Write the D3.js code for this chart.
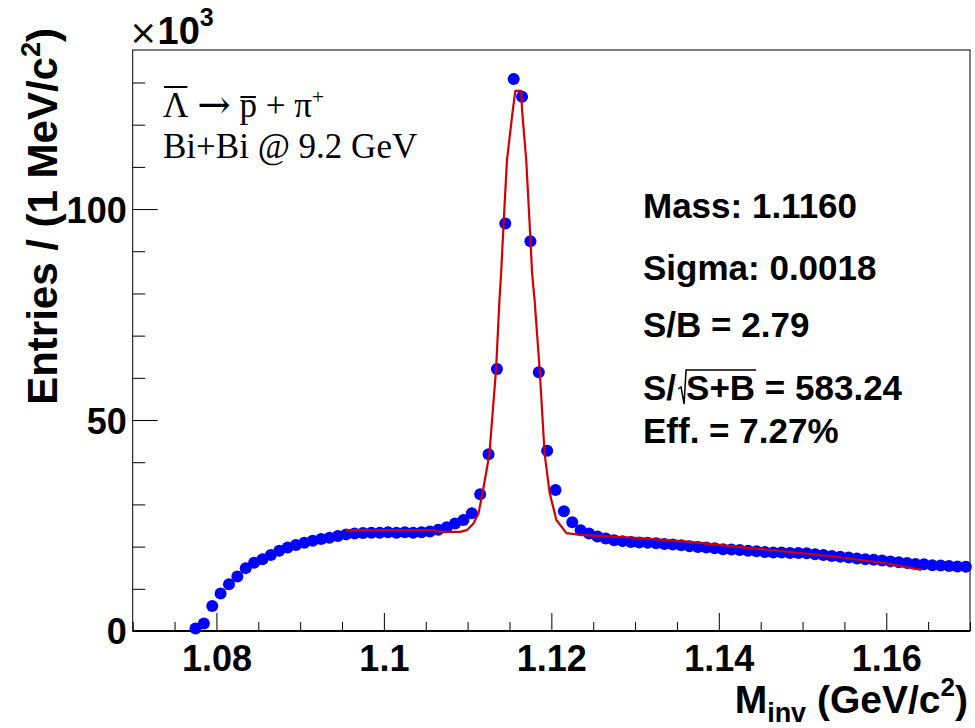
<!DOCTYPE html>
<html>
<head>
<meta charset="utf-8">
<script src="https://cdn.jsdelivr.net/npm/d3@7"></script>
<style>
body { margin: 0; background: #fff; }
svg { display: block; }
</style>
</head>
<body>
<div id="chart"></div>
<script>
// invariant mass bins, 1 MeV wide (bin centres, GeV/c^2)
var binCenters = [
  1.0775, 1.0785, 1.0795, 1.0805, 1.0815, 1.0825, 1.0835, 1.0845, 1.0855, 1.0865,
  1.0875, 1.0885, 1.0895, 1.0905, 1.0915, 1.0925, 1.0935, 1.0945, 1.0955, 1.0965,
  1.0975, 1.0985, 1.0995, 1.1005, 1.1015, 1.1025, 1.1035, 1.1045, 1.1055, 1.1065,
  1.1075, 1.1085, 1.1095, 1.1105, 1.1115, 1.1125, 1.1135, 1.1145, 1.1155, 1.1165,
  1.1175, 1.1185, 1.1195, 1.1205, 1.1215, 1.1225, 1.1235, 1.1245, 1.1255, 1.1265,
  1.1275, 1.1285, 1.1295, 1.1305, 1.1315, 1.1325, 1.1335, 1.1345, 1.1355, 1.1365,
  1.1375, 1.1385, 1.1395, 1.1405, 1.1415, 1.1425, 1.1435, 1.1445, 1.1455, 1.1465,
  1.1475, 1.1485, 1.1495, 1.1505, 1.1515, 1.1525, 1.1535, 1.1545, 1.1555, 1.1565,
  1.1575, 1.1585, 1.1595, 1.1605, 1.1615, 1.1625, 1.1635, 1.1645, 1.1655, 1.1665,
  1.1675, 1.1685, 1.1695
];

// entries per bin, x 10^3
var counts = [
  0.6, 1.8, 5.9, 8.9, 11.1, 12.9, 14.9, 16.2, 17.0, 18.0,
  19.0, 19.8, 20.4, 20.9, 21.4, 21.8, 22.1, 22.5, 22.9, 23.1,
  23.2, 23.3, 23.3, 23.4, 23.3, 23.4, 23.3, 23.4, 23.6, 24.0,
  24.6, 25.5, 26.3, 27.9, 32.4, 41.9, 62.1, 96.6, 130.8, 126.6,
  92.4, 61.3, 42.7, 33.4, 28.4, 25.8, 23.9, 23.1, 22.4, 21.9,
  21.5, 21.3, 21.1, 21.0, 20.9, 20.8, 20.6, 20.5, 20.3, 20.1,
  19.9, 19.8, 19.6, 19.4, 19.3, 19.2, 19.0, 18.9, 18.7, 18.6,
  18.6, 18.5, 18.5, 18.4, 18.2, 18.0, 17.8, 17.6, 17.4, 17.2,
  17.0, 16.9, 16.7, 16.5, 16.3, 16.1, 15.9, 15.8, 15.6, 15.5,
  15.4, 15.3, 15.2
];

// fit curve
var fitMass = [
  1.0954, 1.1059, 1.1067, 1.1091, 1.1099, 1.1107, 1.1113, 1.1118, 1.1126, 1.1134,
  1.1138, 1.1140, 1.1143, 1.1147, 1.1154, 1.1157, 1.1164, 1.1165, 1.1170, 1.1174,
  1.1177, 1.1180, 1.1186, 1.1192, 1.1198, 1.1206, 1.1218, 1.1238, 1.1300, 1.1362,
  1.1441, 1.1541, 1.1601, 1.1642
];
var fitEntries = [
  23.9, 23.9, 23.5, 23.5, 23.9, 25.5, 27.9, 32.9, 41.9, 62.1,
  78.4, 84.8, 96.7, 111.6, 123.5, 128.0, 128.0, 123.5, 111.6, 96.7,
  84.8, 78.4, 62.1, 41.9, 32.7, 26.3, 23.2, 22.7, 22.1, 21.2,
  19.6, 17.6, 16.0, 14.5
];

var xTicks = [1.08, 1.10, 1.12, 1.14, 1.16];
var xTickLabels = ["1.08", "1.1", "1.12", "1.14", "1.16"];
var yTicks = [0, 50, 100];
var yTickLabels = ["0", "50", "100"];

var statLines = ["Mass: 1.1160", "Sigma: 0.0018", "S/B = 2.79"];
var signif = "583.24";
var effLine = "Eff. = 7.27%";

var width = 975,
    height = 728;

var sans = "'Liberation Sans', Arial, Helvetica, sans-serif";
var serif = "'Liberation Serif', 'Times New Roman', serif";
var statSize = "35px";

var x = d3.scaleLinear().domain([1.07, 1.17]).range([132.7, 970]);
var y = d3.scaleLinear().domain([0, 137.7]).range([631, 50]);

var svg = d3.select("#chart")
    .append("svg")
    .attr("width", width)
    .attr("height", height)
    .style("background", "#fff");

// frame
svg.append("rect")
    .attr("x", x.range()[0])
    .attr("y", y.range()[1])
    .attr("width", x.range()[1] - x.range()[0])
    .attr("height", y.range()[0] - y.range()[1])
    .attr("fill", "none")
    .attr("stroke", "#000")
    .attr("stroke-width", 1);

// x axis, ticks pointing in
var xMinor = x.ticks(20).filter(function(v) {
  return xTicks.every(function(t) { return Math.abs(t - v) > 1e-6; });
});
svg.append("g")
    .attr("transform", "translate(0," + y(0) + ")")
    .call(d3.axisBottom(x).tickValues(xMinor).tickSize(-9).tickFormat(""))
    .call(function(g) { g.select(".domain").remove(); });
var gx = svg.append("g")
    .attr("transform", "translate(0," + y(0) + ")")
    .call(d3.axisBottom(x).tickValues(xTicks).tickSize(-18).tickPadding(6)
      .tickFormat(function(d, i) { return xTickLabels[i]; }));
gx.select(".domain").remove();
gx.selectAll("text")
    .attr("dy", "0.95em")
    .style("font-family", sans)
    .style("font-weight", "bold")
    .style("font-size", "36px")
    .attr("fill", "#000");

svg.append("line")
    .attr("x1", x.range()[0]).attr("x2", x.range()[1])
    .attr("y1", y(0)).attr("y2", y(0))
    .attr("stroke", "#000").attr("stroke-width", 2);

// y axis
var yMinor = y.ticks(14).filter(function(v) { return yTicks.indexOf(v) < 0; });
svg.append("g")
    .attr("transform", "translate(" + x.range()[0] + ",0)")
    .call(d3.axisLeft(y).tickValues(yMinor).tickSize(-12.5).tickFormat(""))
    .call(function(g) { g.select(".domain").remove(); });
var gy = svg.append("g")
    .attr("transform", "translate(" + x.range()[0] + ",0)")
    .call(d3.axisLeft(y).tickValues(yTicks).tickSize(-25).tickPadding(6)
      .tickFormat(function(d, i) { return yTickLabels[i]; }));
gy.select(".domain").remove();
gy.selectAll("text")
    .attr("dy", "0.36em")
    .style("font-family", sans)
    .style("font-weight", "bold")
    .style("font-size", "36px")
    .attr("fill", "#000");

// x10^3 multiplier
var mult = svg.append("text")
    .attr("x", 129).attr("y", 44)
    .style("font-family", sans)
    .style("font-size", "38px");
mult.append("tspan").style("font-family", "'DejaVu Sans', sans-serif").style("font-size", "34px").text("\u00d7");
mult.append("tspan").style("font-weight", "bold").text("10");
mult.append("tspan").style("font-weight", "bold").style("font-size", "25px").attr("dy", -18).text("3");

// axis titles
var yt = svg.append("text")
    .attr("transform", "translate(57,28) rotate(-90)")
    .attr("text-anchor", "end")
    .style("font-family", sans)
    .style("font-weight", "bold")
    .style("font-size", "42px");
yt.append("tspan").text("Entries / (1 MeV/c");
yt.append("tspan").style("font-size", "27px").attr("dy", -17).text("2");
yt.append("tspan").attr("dy", 17).text(")");

var xt = svg.append("text")
    .attr("x", 968).attr("y", 713)
    .attr("text-anchor", "end")
    .style("font-family", sans)
    .style("font-weight", "bold")
    .style("font-size", "39px");
xt.append("tspan").text("M");
xt.append("tspan").style("font-size", "27px").attr("dy", 9).text("inv");
xt.append("tspan").attr("dy", -9).text("\u00a0(GeV/c");
xt.append("tspan").style("font-size", "26px").attr("dy", -17).text("2");
xt.append("tspan").attr("dy", 17).text(")");

// data points
svg.append("g")
  .selectAll("circle")
  .data(binCenters)
  .enter()
  .append("circle")
    .attr("cx", function(d) { return x(d); })
    .attr("cy", function(d, i) { return y(counts[i]); })
    .attr("r", 6)
    .attr("fill", "#0000ff");

// fit
var fitLine = d3.line()
    .x(function(d) { return x(d); })
    .y(function(d, i) { return y(fitEntries[i]); });
svg.append("path")
    .attr("d", fitLine(fitMass))
    .attr("fill", "none")
    .attr("stroke", "#d40000")
    .attr("stroke-width", 2.2)
    .attr("stroke-linejoin", "round");

// decay label
var decay = svg.append("text")
    .attr("x", 163).attr("y", 117)
    .style("font-family", serif)
    .style("font-size", "35px");
decay.append("tspan").text("\u039b\u00a0");
decay.append("tspan").style("font-family", "'DejaVu Serif', serif").style("font-size", "40px").attr("dy", 1).text("\u2192");
decay.append("tspan").attr("dy", -1).text("\u00a0p + \u03c0");
decay.append("tspan").style("font-size", "22px").attr("dy", -13).text("+");
var dn = decay.node();
var lam = dn.getExtentOfChar(0);
var pe = dn.getExtentOfChar(4);
svg.append("line")
    .attr("x1", lam.x + 1).attr("x2", lam.x + lam.width - 1)
    .attr("y1", 87).attr("y2", 87)
    .attr("stroke", "#000").attr("stroke-width", 2);
svg.append("line")
    .attr("x1", pe.x + 1).attr("x2", pe.x + pe.width - 1)
    .attr("y1", 97).attr("y2", 97)
    .attr("stroke", "#000").attr("stroke-width", 2);

svg.append("text")
    .attr("x", 163).attr("y", 158)
    .style("font-family", serif)
    .style("font-size", "35px")
    .text("Bi+Bi @ 9.2 GeV");

// fit results
var statY = [218, 280, 337];
svg.selectAll("text.stat")
  .data(statLines)
  .enter()
  .append("text")
    .attr("class", "stat")
    .attr("x", 643)
    .attr("y", function(d, i) { return statY[i]; })
    .style("font-family", sans)
    .style("font-weight", "bold")
    .style("font-size", statSize)
    .text(function(d) { return d; });

var s1 = svg.append("text")
    .attr("x", 643).attr("y", 400)
    .style("font-family", sans)
    .style("font-weight", "bold")
    .style("font-size", statSize)
    .text("S/");
var rx = 643 + s1.node().getComputedTextLength() + 2;
var s2 = svg.append("text")
    .attr("x", rx + 8).attr("y", 400)
    .style("font-family", sans)
    .style("font-weight", "bold")
    .style("font-size", statSize)
    .text("S+B");
var sbw = s2.node().getComputedTextLength();
svg.append("text")
    .attr("x", rx + 8 + sbw).attr("y", 400)
    .style("font-family", sans)
    .style("font-weight", "bold")
    .style("font-size", statSize)
    .text("\u00a0= " + signif);
svg.append("path")
    .attr("d", "M" + rx + "," + 389 + "L" + (rx + 3) + "," + 387 +
               "L" + (rx + 6) + "," + 404 + "L" + (rx + 8) + "," + 370 +
               "L" + (rx + 8 + sbw + 1) + "," + 370)
    .attr("fill", "none")
    .attr("stroke", "#000")
    .attr("stroke-width", 1.5);

svg.append("text")
    .attr("x", 643).attr("y", 443)
    .style("font-family", sans)
    .style("font-weight", "bold")
    .style("font-size", statSize)
    .text(effLine);
</script>
</body>
</html>
